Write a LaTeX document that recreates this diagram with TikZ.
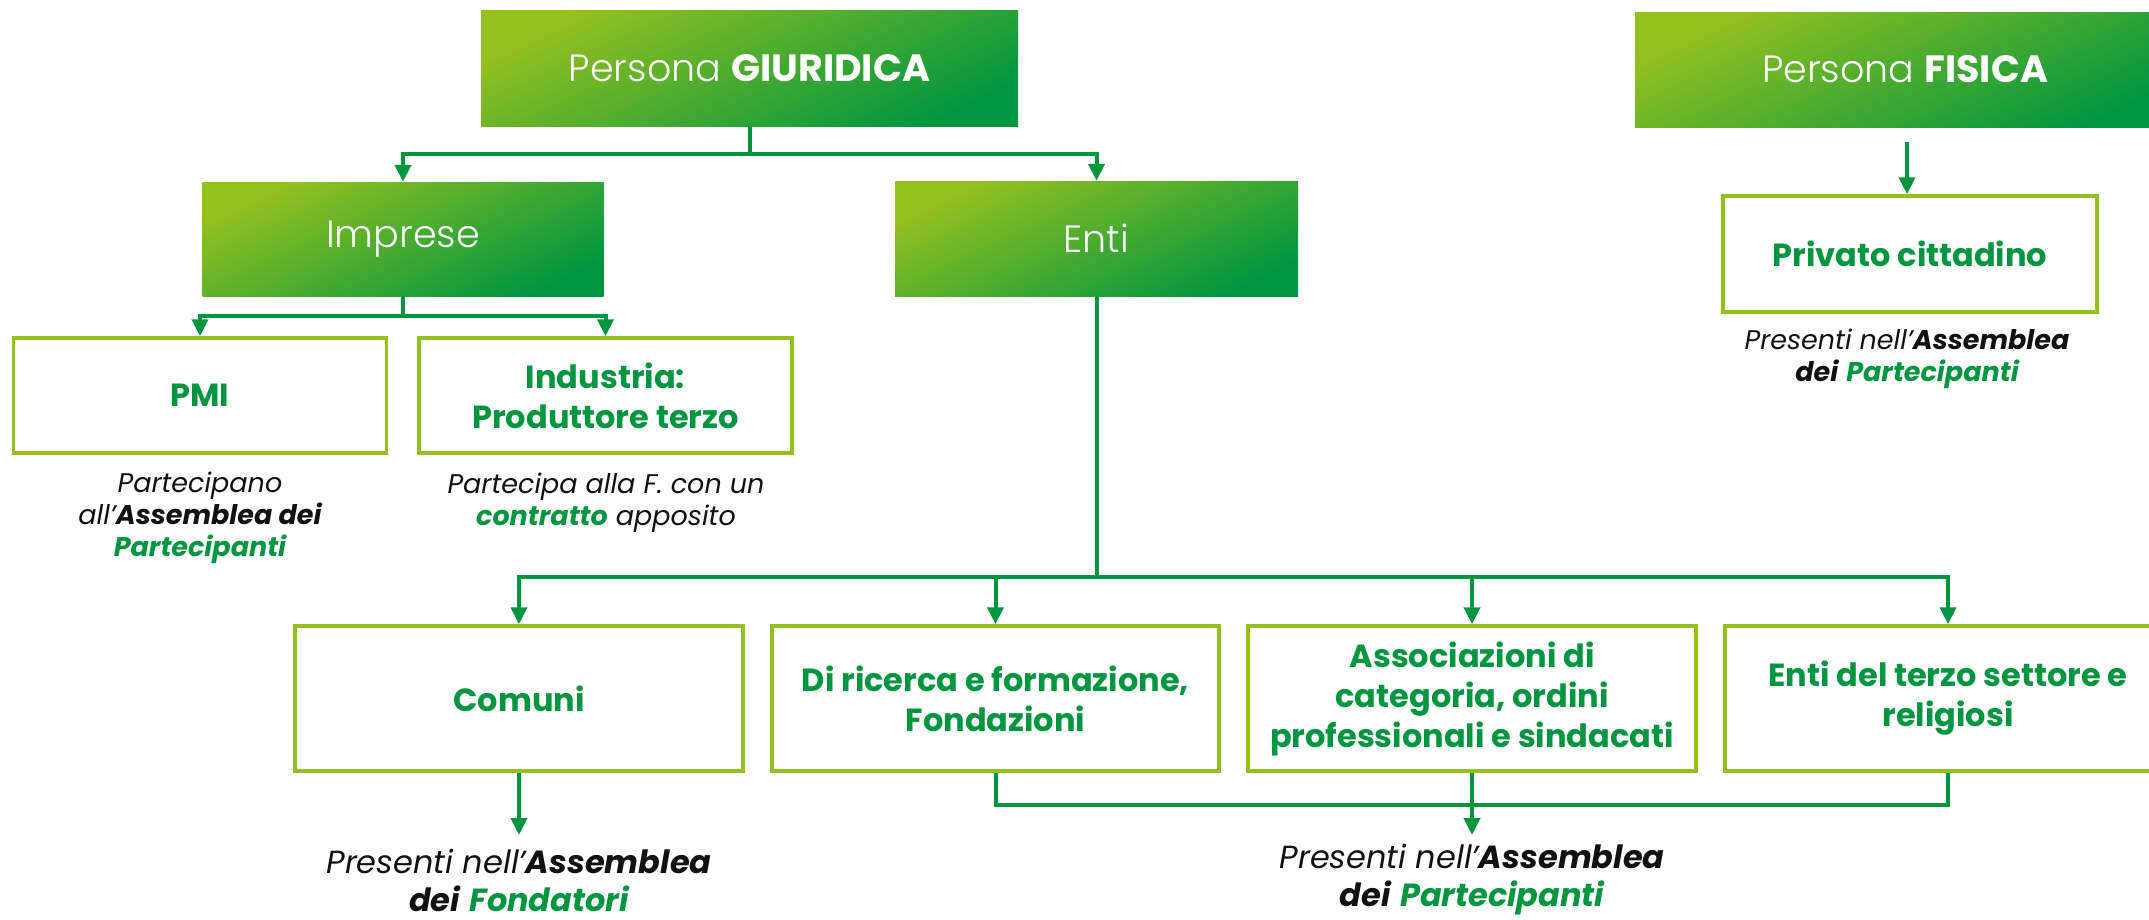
\documentclass[tikz,border=0pt]{standalone}
\usepackage{fontspec}
\setmainfont{Poppins}
\newfontfamily\lightfont{Poppins Light}
\usetikzlibrary{arrows.meta}
\definecolor{lg}{HTML}{95C11F}
\definecolor{dg}{HTML}{009640}
\definecolor{tg}{HTML}{009640}
\definecolor{capblack}{HTML}{111111}
\tikzset{
  gradbox/.style={inner sep=0pt, top color=lg, bottom color=dg, shading angle=25, text=white, font=\fontsize{38}{46}\selectfont},
  wbox/.style={draw=lg, line width=3.5pt, fill=white, text=tg, align=center, inner sep=0pt, font=\bfseries\fontsize{32}{40}\selectfont},
  conn/.style={draw=dg, line width=4pt},
  arr/.style={conn, -{Triangle[width=16pt,length=17pt]}},
  captext/.style={align=center, inner sep=1pt, text=capblack, font=\itshape\fontsize{27}{32}\selectfont},
  bigcaptext/.style={align=center, inner sep=1pt, text=capblack, font=\itshape\fontsize{32}{38}\selectfont},
}
\begin{document}
\begin{tikzpicture}[x=1pt, y=-1pt]
\useasboundingbox (0,0) rectangle (2149,919);
\clip (0,0) rectangle (2149,919);
% top-level boxes
\node[gradbox, minimum width=537pt, minimum height=116pt] (giur) at (749.5,68) {{\lightfont Persona} \textbf{GIURIDICA}};
\node[gradbox, minimum width=540pt, minimum height=115pt] (fis) at (1905,69.5) {{\lightfont Persona} \textbf{FISICA}};
\node[gradbox, minimum width=401pt, minimum height=114pt] (imp) at (403,239) {\lightfont Imprese};
\node[gradbox, minimum width=403pt, minimum height=115pt] (enti) at (1096.5,238.5) {\lightfont Enti};
% second level
\node[wbox, minimum width=373pt, minimum height=115pt] (pmi) at (200,395.5) {PMI};
\node[wbox, minimum width=373pt, minimum height=115pt] (ind) at (605.5,395.5) {Industria:\\Produttore terzo};
\node[wbox, minimum width=374pt, minimum height=116pt] (priv) at (1910,254) {Privato cittadino};
% third level
\node[wbox, minimum width=448pt, minimum height=145pt] (com) at (519,698.5) {Comuni};
\node[wbox, minimum width=447pt, minimum height=145pt] (ric) at (995.5,698.5) {Di ricerca e formazione,\\Fondazioni};
\node[wbox, minimum width=448pt, minimum height=145pt] (ass) at (1472,698.5) {Associazioni di\\categoria, ordini\\professionali e sindacati};
\node[wbox, minimum width=446pt, minimum height=145pt] (ets) at (1948,698.5) {Enti del terzo settore e\\religiosi};
% captions
\node[captext] (cpmi) at (200,518) {Partecipano\\all’\textbf{Assemblea dei}\\\textcolor{tg}{\textbf{Partecipanti}}};
\node[captext] (cind) at (606,503) {Partecipa alla F. con un\\\textcolor{tg}{\textbf{contratto}} apposito};
\node[captext] (cpriv) at (1907,359) {Presenti nell’\textbf{Assemblea}\\\textbf{dei} \textcolor{tg}{\textbf{Partecipanti}}};
\node[bigcaptext] (ccom) at (519,880) {Presenti nell’\textbf{Assemblea}\\\textbf{dei} \textcolor{tg}{\textbf{Fondatori}}};
\node[bigcaptext] (cpart) at (1472,880) {Presenti nell’\textbf{Assemblea}\\\textbf{dei} \textcolor{tg}{\textbf{Partecipanti}}};
% connector coordinates
\coordinate (fstart) at (1907,142);
\coordinate (comend) at (519,835);
\coordinate (assend) at (1472,835);
% connectors
\draw[arr] (giur.south) -- ++(0,28) -| (imp.north);
\draw[arr] (giur.south) -- ++(0,28) -| (enti.north);
\draw[arr] (imp.south) -- ++(0,20) -| (pmi.north);
\draw[arr] (imp.south) -- ++(0,20) -| (ind.north);
\draw[arr] (enti.south) -- ++(0,281) -| (com.north);
\draw[arr] (enti.south) -- ++(0,281) -| (ric.north);
\draw[arr] (enti.south) -- ++(0,281) -| (ass.north);
\draw[arr] (enti.south) -- ++(0,281) -| (ets.north);
\draw[arr] (fstart) -- (fstart |- priv.north);
\draw[arr] (com.south) -- (comend);
\draw[conn] (ric.south) -- ++(0,32) -| (ets.south);
\draw[arr] (ass.south) -- (assend);
\end{tikzpicture}
\end{document}
